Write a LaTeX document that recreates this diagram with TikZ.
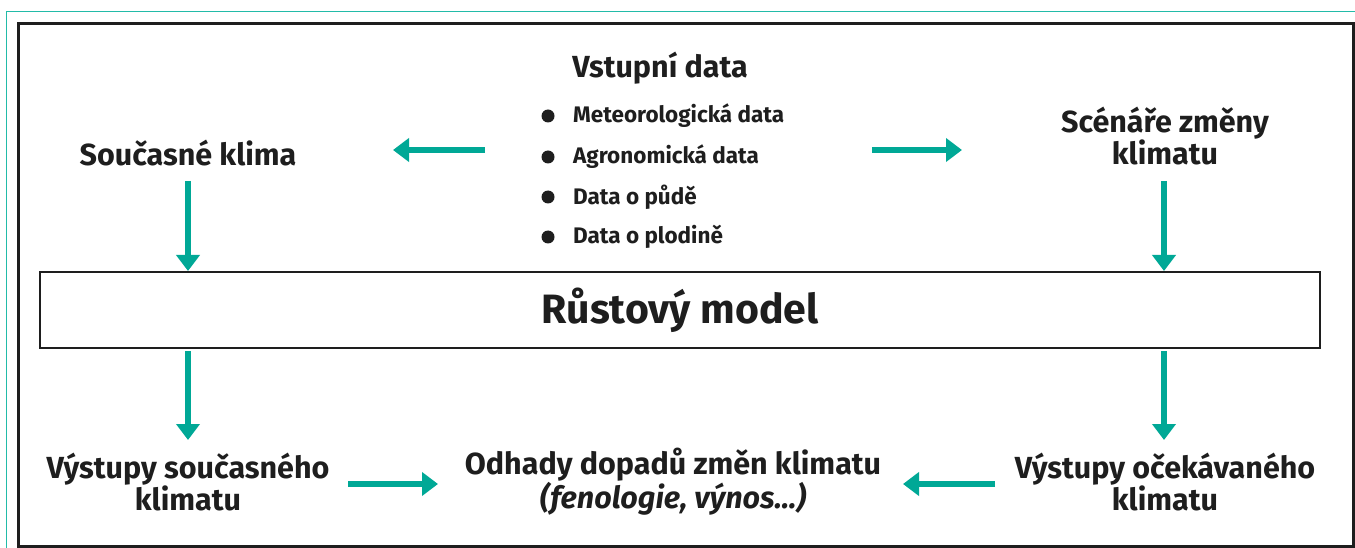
\documentclass[tikz,border=0pt]{standalone}
\usepackage{fontspec}
\setmainfont{Fira Sans}
\usetikzlibrary{arrows.meta}
\definecolor{tyrkys}{HTML}{00A896}
\definecolor{tyrkysram}{HTML}{22BBA8}
\definecolor{tmava}{HTML}{1E1E1E}

\begin{document}
\begin{tikzpicture}[x=1pt, y=-1pt,
  every node/.style={inner sep=0pt, align=center, text=tmava, font=\bfseries},
  sipka/.style={draw=tyrkys, line width=6pt, -{Triangle[width=23pt,length=16pt]}},
  nadpis/.style={font=\fontsize{30.5}{32.5}\selectfont\bfseries},
  polozka/.style={anchor=west, font=\fontsize{22.5}{24}\selectfont\bfseries},
  tecka/.style={circle, fill=tmava, minimum size=13pt}]
			\useasboundingbox (0,0) rectangle (1355,548);
			\draw[tyrkysram, line width=1.6pt] (6.5,548) -- (6.5,11.5) -- (1355,11.5);
			\draw[tmava, line width=3pt] (18,23.5) rectangle (1353,546);
			
			\node[nadpis] (vstup) at (660,68){Vstupní data};
			\node[tecka] (t1) at (548,116){};
			\node[tecka] (t2) at (548,157){};
			\node[tecka] (t3) at (548,197){};
			\node[tecka] (t4) at (548,237){};
			\node[polozka] (p1) at (573,116){Meteorologická data};
			\node[polozka] (p2) at (573,157){Agronomická data};
			\node[polozka] (p3) at (573,197){Data o půdě};
			\node[polozka] (p4) at (573,237){Data o plodině};
			
			\node[nadpis] (soucasne) at (188,153){Současné klima};
			\node[nadpis] (scenare) at (1165,136){Scénáře změny\\klimatu};
			\node[draw=tmava, line width=2pt, minimum width=1280pt, minimum height=76pt,
			      font=\fontsize{41}{44}\selectfont\bfseries] (model) at (680,310){Růstový model};
			\node[nadpis] (vyst1) at (188,482){Výstupy současného\\klimatu};
			\node[nadpis] (odhady) at (673,482){Odhady dopadů změn klimatu\\\itshape(fenologie, výnos...)};
			\node[nadpis] (vyst2) at (1165,482){Výstupy očekávaného\\klimatu};
			
			\coordinate (zleva) at (485,150);
			\coordinate (zprava) at (872,150);
			\coordinate (zvyst1) at (348,484);
			\coordinate (zvyst2) at (995,484);
			
			\draw[sipka] (zleva) -- (393,150);
			\draw[sipka] (zprava) -- (962,150);
			\draw[sipka] (188,181) -- (soucasne.south |- model.north);
			\draw[sipka] (1164,181) -- (1164,0 |- model.north);
			\draw[sipka] (188,0 |- model.south) ++(0,2) -- (188,440);
			\draw[sipka] (1164,0 |- model.south) ++(0,2) -- (1164,440);
			\draw[sipka] (zvyst1) -- (438,484);
			\draw[sipka] (zvyst2) -- (903,484);
\end{tikzpicture}
\end{document}
